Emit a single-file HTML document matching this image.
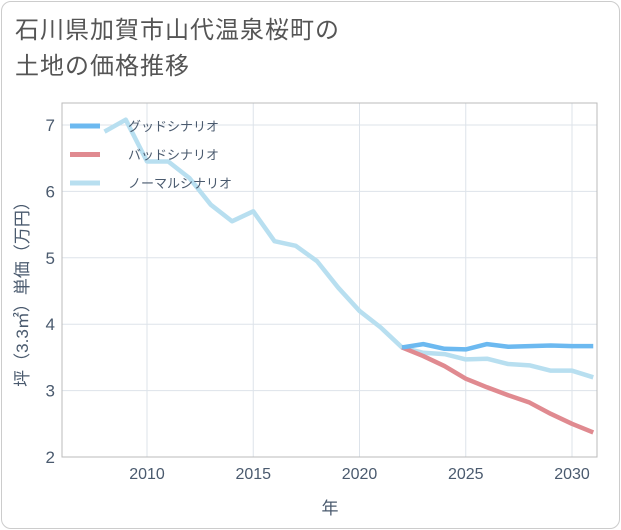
<!DOCTYPE html>
<html><head><meta charset="utf-8"><style>
body{margin:0;background:#fff;font-family:"Liberation Sans","Noto Sans CJK JP",sans-serif;}
#card{position:absolute;left:1px;top:1px;width:617px;height:526px;border:1px solid #ccc;border-radius:10px;background:#fff;}
#title{position:absolute;left:15px;top:13px;font-size:24px;line-height:36px;color:#555;font-family:"Liberation Sans","Noto Sans CJK JP",sans-serif;letter-spacing:1px;}
</style></head><body>
<div id="card"></div>
<div id="title">石川県加賀市山代温泉桜町の<br>土地の価格推移</div>
<svg id="chart" width="621" height="530" style="position:absolute;left:0;top:0"></svg>
<script>
const years=[2008,2009,2010,2011,2012,2013,2014,2015,2016,2017,2018,2019,2020,2021,2022,2023,2024,2025,2026,2027,2028,2029,2030,2031];
const normal=[6.9,7.08,6.45,6.45,6.2,5.8,5.55,5.7,5.25,5.18,4.95,4.55,4.2,3.95,3.65,3.57,3.55,3.47,3.48,3.4,3.38,3.3,3.3,3.2];
const goodYears=[2022,2023,2024,2025,2026,2027,2028,2029,2030,2031];
const good=[3.65,3.7,3.63,3.62,3.7,3.66,3.67,3.68,3.67,3.67];
const bad=[3.65,3.52,3.37,3.18,3.05,2.93,2.82,2.65,2.5,2.37];
const xTicks=[2010,2015,2020,2025,2030];
const yTicks=[2,3,4,5,6,7];
const legendLabels=["グッドシナリオ","バッドシナリオ","ノーマルシナリオ"];
const colors=["#6cb9f0","#e08a90","#b8dff0"];
const L=62,R=597,T=103,B=457;
const x=v=>147+(v-2010)*(572-147)/20;
const y=v=>457-(v-2)*(457-125)/5;
const svg=document.getElementById('chart');const NS="http://www.w3.org/2000/svg";
function el(t,a,p){const e=document.createElementNS(NS,t);for(const k in a)e.setAttribute(k,a[k]);(p||svg).appendChild(e);return e;}
const cp=el('clipPath',{id:'cp'});el('rect',{x:L,y:T,width:R-L,height:B-T},cp);
for(const t of xTicks){const g=el('line',{x1:x(t),x2:x(t),y1:T,y2:B,stroke:'#dde3ea'});
const tx=el('text',{x:x(t),y:479,'text-anchor':'middle','font-size':16,fill:'#4a5a6e'});tx.textContent=t;}
for(const t of yTicks){const g=el('line',{x1:L,x2:R,y1:y(t),y2:y(t),stroke:'#dde3ea'});
const tx=el('text',{x:55,y:y(t)+6,'text-anchor':'end','font-size':17,fill:'#4a5a6e'});tx.textContent=t;}
const fr=el('rect',{x:L,y:T,width:R-L,height:B-T,fill:'none',stroke:'#bbb'});
function line(xs,vs,c,name){const p=el('polyline',{points:xs.map((v,i)=>x(v)+','+y(vs[i])).join(' '),fill:'none',stroke:c,'stroke-width':4.5,'stroke-linejoin':'round','clip-path':'url(#cp)'});}
line(years,normal,colors[2],'normal-line');line(goodYears,bad,colors[1],'bad-line');line(goodYears,good,colors[0],'good-line');
legendLabels.forEach((lb,i)=>{const yy=126+i*28.5;const l=el('line',{x1:70,x2:100,y1:yy,y2:yy,stroke:colors[i],'stroke-width':5});
const t=el('text',{x:128,y:yy+5,'font-size':13,fill:'#4a5a6e'});t.textContent=lb;});
const xt=el('text',{x:330,y:514,'text-anchor':'middle','font-size':17,fill:'#4a5a6e'});xt.textContent='年';
const yt=el('text',{x:0,y:0,'text-anchor':'middle','font-size':17,fill:'#4a5a6e',transform:'translate(28,290) rotate(-90)'});yt.textContent='坪（3.3㎡）単価（万円）';
</script>
</body></html>
